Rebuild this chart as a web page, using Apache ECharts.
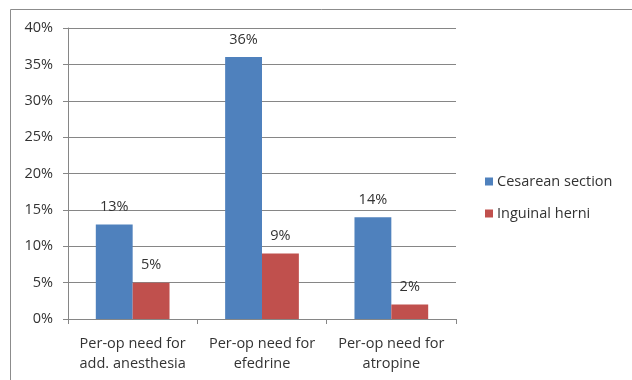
<!DOCTYPE html>
<html><head><meta charset="utf-8">
<script src="https://cdn.jsdelivr.net/npm/echarts@6/dist/echarts.min.js"></script>
<style>html,body{margin:0;padding:0;background:#fff}#c{width:632px;height:380px}</style>
</head><body><div id="c"></div>
<script>
const categories = ['Per-op need for\nadd. anesthesia', 'Per-op need for\nefedrine', 'Per-op need for\natropine'];
const cesarean = [13, 36, 14];
const inguinal = [5, 9, 2];
const seriesNames = ['Cesarean section', 'Inguinal herni'];
const yTicks = [0, 5, 10, 15, 20, 25, 30, 35, 40];

const font = 'Open Sans';
const fs = 14.5;
const textColor = '#333';
const chart = echarts.init(document.getElementById('c'), null, {renderer: 'canvas'});
chart.setOption({
  animation: false,
  backgroundColor: '#fff',
  graphic: [{
    type: 'rect', shape: {x: 10.5, y: 9.5, width: 640, height: 400},
    style: {fill: 'none', stroke: '#8c8c8c', lineWidth: 1}, silent: true
  }],
  grid: {left: 68, top: 28, right: 176, bottom: 61, containLabel: false},
  legend: {
    orient: 'vertical', left: 480, top: 169, itemWidth: 8, itemHeight: 8, itemGap: 17,
    icon: 'rect', itemStyle: {borderWidth: 0},
    textStyle: {fontFamily: font, fontSize: fs, color: textColor, padding: [0, 0, 0, -1]},
    data: seriesNames
  },
  xAxis: {
    type: 'category', data: categories,
    axisLine: {lineStyle: {color: '#868686'}},
    axisTick: {show: true, length: 5, lineStyle: {color: '#868686'}},
    axisLabel: {fontFamily: font, fontSize: fs, color: textColor, lineHeight: 20, margin: 15, interval: 0}
  },
  yAxis: {
    type: 'value', min: yTicks[0], max: yTicks[yTicks.length - 1], interval: 5,
    axisLine: {show: true, lineStyle: {color: '#868686'}},
    axisTick: {show: true, length: 5, lineStyle: {color: '#868686'}},
    splitLine: {lineStyle: {color: '#868686'}},
    axisLabel: {fontFamily: font, fontSize: fs, color: textColor, margin: 15, formatter: v => v + '%'}
  },
  series: [
    {name: seriesNames[0], type: 'bar', data: cesarean, barGap: '0%', barCategoryGap: '43%',
     itemStyle: {color: '#4F81BD'},
     label: {show: true, position: 'top', distance: 10, formatter: p => p.value + '%', fontFamily: font, fontSize: fs, color: textColor}},
    {name: seriesNames[1], type: 'bar', data: inguinal, barGap: '0%', barCategoryGap: '43%',
     itemStyle: {color: '#C0504D'},
     label: {show: true, position: 'top', distance: 10, formatter: p => p.value + '%', fontFamily: font, fontSize: fs, color: textColor}}
  ]
});
</script></body></html>
